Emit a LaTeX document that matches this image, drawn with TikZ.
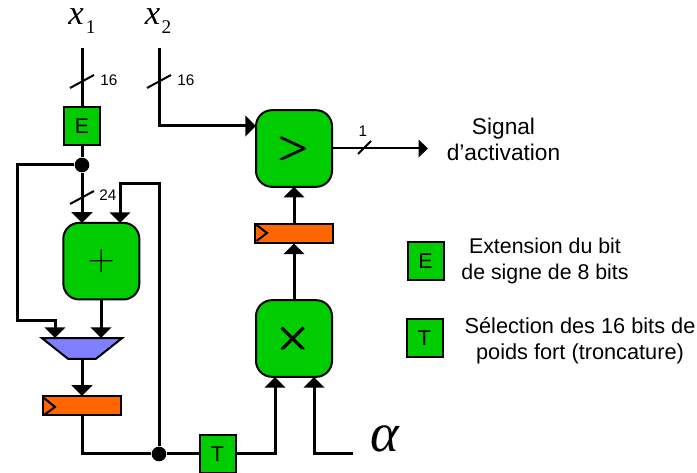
\documentclass[tikz,border=0pt]{standalone}
\usepackage{fix-cm}
\usepackage{amsmath}
\usepackage{fontspec}
\setmainfont{Liberation Sans}
\newfontfamily\timesfont{Liberation Serif}
\usepackage{tikz}
\usetikzlibrary{shapes.geometric, arrows.meta, positioning, calc}
\definecolor{opgreen}{HTML}{00CC00}
\definecolor{regorange}{HTML}{FF6600}
\definecolor{muxblue}{HTML}{8080FF}
\newcommand{\bigsize}{\fontsize{16}{19.5}\selectfont}
\newcommand{\subsize}{\fontsize{14.5}{14.5}\selectfont}
\tikzset{
    base/.style={draw=black, line width=1.5pt, align=center, inner sep=0pt, outer sep=0pt, font=\bigsize},
    unitbox/.style={base, rectangle, fill=opgreen, minimum width=27pt, minimum height=28.5pt},
    op/.style={base, rectangle, rounded corners=12pt, fill=opgreen, minimum width=57pt, minimum height=57.5pt},
    reg/.style={base, rectangle, fill=regorange, minimum width=58pt, minimum height=14.5pt},
    mux/.style={base, trapezium, shape border rotate=180, trapezium stretches=true, trapezium left angle=47, trapezium right angle=47, fill=muxblue, inner sep=1pt, minimum width=60pt, minimum height=15.5pt},
    bus/.style={line width=2.25pt, draw=black},
    arrow/.style={bus, -{Triangle[length=8pt, width=15.5pt]}},
    thinarrow/.style={line width=1.5pt, -{Triangle[length=7pt, width=13pt]}},
    tick/.style={line width=1.5pt},
    dot/.style={circle, fill=black, inner sep=0pt, minimum size=11pt},
    txt/.style={align=center, font=\bigsize, inner sep=0pt},
    width/.style={inner sep=0pt, font=\fontsize{11.5}{13}\selectfont},
    var/.style={inner sep=0pt, anchor=base, font=\timesfont\fontsize{26}{26}\selectfont}
}

\begin{document}
\begin{tikzpicture}[x=0.75pt, y=-0.75pt]
        \useasboundingbox (0,0) rectangle (697,473);
        % Nodes
        \node (ee) [unitbox] at (82,126.5) {E};
        \node (add) [op, below right=58pt and -0.5pt of ee.south west] {\fontsize{28}{28}\selectfont$+$};
        \node (mx) [mux] at (82,348.5) {};
        \node (rega) [reg, below=35.5pt of mx.center] {};
        \node (tt) [unitbox] at (217.5,454) {T};
        \node (mul) [op] at (294,338.5) {\fontsize{34}{34}\selectfont$\pmb{\times}$};
        \node (regb) [reg, above=42.5pt of mul] {};
        \node (cmp) [op, above=28pt of regb] {\fontsize{31}{31}\selectfont$\pmb{>}$};
        \node (join) [dot] at (82,165) {};
        \node (fork) [dot] at (159,454) {};
        % Free ends
        \coordinate (xa) at (82,48);
        \coordinate (xb) at (159,48);
        \coordinate (al) at (353,454);
        \coordinate (out) at (cmp -| 428,0);
        % Labels
        \node (lxa) [var] at (82,25) {\textit{x}\hspace{1.5pt}\raisebox{-6.75pt}{\subsize 1}};
        \node (lxb) [var] at (158,25) {\textit{x}\hspace{1pt}\raisebox{-6.75pt}{\subsize 2}};
        \node (lal) [var] at (385,452) {\fontsize{41}{41}\selectfont\textit{α}};
        \node (wa) [width] at (109,80) {16};
        \node (wb) [width] at (186,80) {16};
        \node (wc) [width] at (108,195) {24};
        \node (wd) [width] at (363,131) {1};
        \node (sig) [txt, font=\fontsize{17}{19.5}\selectfont] at (503.5,139) {Signal\\d’activation};
        % Legend
        \node (lege) [unitbox] at (425.5,261.5) {E};
        \node (legt) [unitbox] at (424.5,338.5) {T};
        \node (txe) [txt] at (545,261) {Extension du bit\\de signe de 8 bits};
        \node (txs) [txt, font=\fontsize{16.3}{19.5}\selectfont] at (580,341) {Sélection des 16 bits de\\poids fort (troncature)};

        % Arrows
        \draw [bus] (xa) -- (ee);
        \draw [bus] (ee) -- (join);
        \draw [arrow] (join) -- (join |- add.north);
        \draw [arrow] (xb) |- (cmp.west |- 0,126);
        \draw [arrow] (join) -| (17,321) -| ($(mx.center)+(-27,-10.5)$);
        \draw [arrow] (add.south -| 101,0) -- ($(mx.center)+(19,-10.5)$);
        \draw [arrow] ($(mx.center)+(0,10.5)$) -- (rega.north);
        \draw [bus] (rega) |- (fork);
        \draw [bus] (fork) -- (tt);
        \draw [arrow] (fork) -- (159,184) -| (120,223);
        \draw [arrow] (tt) -| (275,377);
        \draw [arrow] (al) -| (314,377);
        \draw [arrow] (mul) -- (regb.south);
        \draw [arrow] (regb) -- (cmp.south);
        \draw [thinarrow] (cmp) -- (out);
        % Bus widths
        \draw [tick] (70,88) -- (94,75);
        \draw [tick] (147,88) -- (171,75);
        \draw [tick] (70,204) -- (94,191);
        \draw [tick] (358,154) -- (371,141);
        % Clock marks
        \draw [tick] (44,398) -- (55,407) -- (44,415);
        \draw [tick] (256.5,225) -- (267,233) -- (256.5,241);
    \end{tikzpicture}
\end{document}
